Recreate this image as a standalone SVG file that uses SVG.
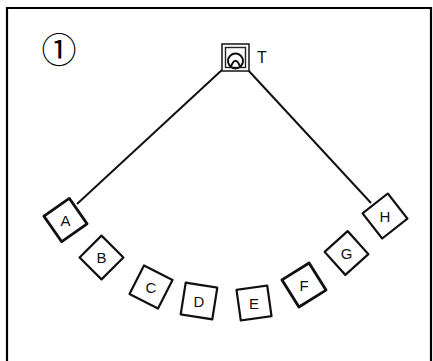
<svg xmlns="http://www.w3.org/2000/svg" width="433" height="361" viewBox="0 0 433 361">
  <style>
    .box { fill: #fff; stroke: #111; stroke-width: 2.2; stroke-linejoin: round; }
    .thick { stroke-width: 2.8; }
    .lbl { font-family: "Liberation Sans", Arial, sans-serif; font-size: 15px; fill: #111; text-anchor: middle; }
    .conn { stroke: #111; stroke-width: 2; fill: none; }
  </style>
  <rect width="433" height="361" fill="#fff"/>
  <path d="M7,361 V8 H431 V361" fill="none" stroke="#000" stroke-width="2.2"/>
  <text x="59" y="63" font-family="'Noto Sans CJK JP', 'DejaVu Sans', sans-serif" font-size="35" text-anchor="middle" fill="#000">①</text>

  <g id="connectors">
    <line class="conn" x1="223" y1="69" x2="77" y2="204"/>
    <line class="conn" x1="248" y1="70" x2="371" y2="203"/>
  </g>

  <g id="node-T">
    <rect x="222" y="44" width="27" height="27" fill="#fff" stroke="#222" stroke-width="1.6"/>
    <rect x="225.5" y="47.5" width="20" height="20" fill="none" stroke="#222" stroke-width="1.4"/>
    <circle cx="235.5" cy="61" r="7.5" fill="none" stroke="#111" stroke-width="2"/>
    <path d="M231,66.5 Q235.5,55 240,66.5" fill="none" stroke="#111" stroke-width="1.8"/>
    <text x="262" y="63" class="lbl" style="font-size:16px">T</text>
  </g>

  <g id="node-A" transform="translate(65.5,220)">
    <rect class="box thick" x="-15.5" y="-15.5" width="31" height="31" transform="rotate(-35)"/>
    <text class="lbl" y="5.5">A</text>
  </g>
  <g id="node-B" transform="translate(101.5,257.5)">
    <rect class="box" x="-15.5" y="-15.5" width="31" height="31" transform="rotate(45)"/>
    <text class="lbl" y="5.5">B</text>
  </g>
  <g id="node-C" transform="translate(151,287)">
    <rect class="box" x="-16" y="-16" width="32" height="32" transform="rotate(27)"/>
    <text class="lbl" y="5.5">C</text>
  </g>
  <g id="node-D" transform="translate(199,301)">
    <rect class="box" x="-16" y="-16" width="32" height="32" transform="rotate(9)"/>
    <text class="lbl" y="5.5">D</text>
  </g>
  <g id="node-E" transform="translate(254,303)">
    <rect class="box" x="-15.5" y="-15.5" width="31" height="31" transform="rotate(-8)"/>
    <text class="lbl" y="5.5">E</text>
  </g>
  <g id="node-F" transform="translate(304,285)">
    <rect class="box thick" x="-16" y="-16" width="32" height="32" transform="rotate(-32)"/>
    <text class="lbl" y="5.5">F</text>
  </g>
  <g id="node-G" transform="translate(346.5,253)">
    <rect class="box" x="-15.5" y="-15.5" width="31" height="31" transform="rotate(-42)"/>
    <text class="lbl" y="5.5">G</text>
  </g>
  <g id="node-H" transform="translate(385,216)">
    <rect class="box" x="-16" y="-16" width="32" height="32" transform="rotate(-38)"/>
    <text class="lbl" y="5.5">H</text>
  </g>
</svg>
